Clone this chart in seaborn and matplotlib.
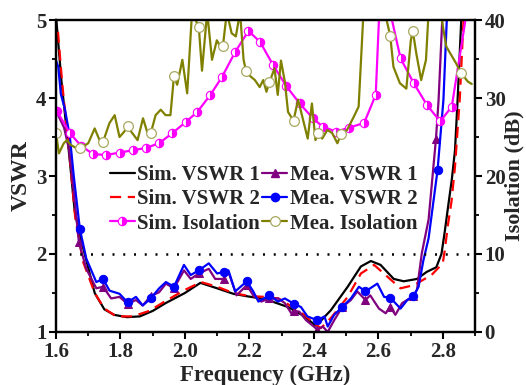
import numpy as np
import matplotlib
matplotlib.use("Agg")
import matplotlib.pyplot as plt
from matplotlib.lines import Line2D
from matplotlib.ticker import MultipleLocator
import seaborn as sns

# ---- data ----
sim_vswr1_f = [1.600, 1.617, 1.628, 1.641, 1.658, 1.674, 1.694, 1.72, 1.75, 1.78, 1.82, 1.86,
               1.90, 1.94, 2.00, 2.048, 2.10, 2.15, 2.19, 2.25, 2.32, 2.371, 2.40, 2.407,
               2.453, 2.505, 2.546, 2.577, 2.607, 2.648, 2.679, 2.72, 2.75, 2.78, 2.796,
               2.806, 2.817, 2.828, 2.838, 2.846, 2.858]
sim_vswr1 = [5.05, 4.21, 3.78, 3.27, 2.55, 2.24, 1.92, 1.50, 1.29, 1.22, 1.19, 1.20,
             1.27, 1.37, 1.50, 1.63, 1.56, 1.49, 1.46, 1.42, 1.32, 1.20, 1.10, 1.08,
             1.28, 1.58, 1.84, 1.91, 1.86, 1.68, 1.65, 1.68, 1.77, 1.83, 2.00,
             2.28, 2.62, 2.95, 3.33, 3.97, 5.05]

sim_vswr2_f = [1.606, 1.62, 1.64, 1.66, 1.684, 1.72, 1.75, 1.787, 1.838, 1.889, 1.941,
               2.00, 2.05, 2.10, 2.15, 2.20, 2.25, 2.29, 2.33, 2.37, 2.40, 2.422, 2.453,
               2.505, 2.546, 2.587, 2.628, 2.669, 2.71, 2.765, 2.80, 2.806, 2.816,
               2.827, 2.838, 2.853, 2.865]
sim_vswr2 = [4.85, 4.15, 3.35, 2.45, 1.90, 1.50, 1.30, 1.20, 1.20, 1.27, 1.40,
             1.54, 1.64, 1.58, 1.50, 1.46, 1.45, 1.43, 1.33, 1.22, 1.11, 1.05, 1.18,
             1.45, 1.75, 1.86, 1.71, 1.56, 1.60, 1.73, 1.88, 2.04, 2.37,
             2.67, 3.12, 4.00, 5.05]

mea_vswr1_f = [1.600, 1.61, 1.625, 1.64, 1.655, 1.671, 1.694, 1.725, 1.746, 1.771, 1.797,
               1.822, 1.848, 1.869, 1.894, 1.92, 1.941, 1.966, 1.997, 2.018, 2.043, 2.074,
               2.094, 2.12, 2.135, 2.16, 2.192, 2.212, 2.237, 2.262, 2.29, 2.31, 2.33,
               2.339, 2.355, 2.376, 2.40, 2.411, 2.428, 2.443, 2.463, 2.488, 2.515, 2.535,
               2.56, 2.575, 2.602, 2.623, 2.637, 2.653, 2.674, 2.709, 2.72, 2.735, 2.756,
               2.779, 2.787, 2.799]
mea_vswr1 = [3.85, 3.75, 3.62, 3.35, 2.80, 2.15, 1.81, 1.56, 1.58, 1.43, 1.45,
             1.36, 1.41, 1.34, 1.46, 1.51, 1.62, 1.56, 1.79, 1.68, 1.75, 1.81,
             1.68, 1.68, 1.77, 1.47, 1.60, 1.47, 1.39, 1.43, 1.43, 1.37, 1.24,
             1.27, 1.26, 1.15, 1.07, 1.03, 1.07, 1.00, 1.15, 1.32, 1.41, 1.52,
             1.41, 1.47, 1.30, 1.24, 1.32, 1.22, 1.37, 1.46, 1.54, 2.01, 2.44,
             3.48, 3.97, 5.05]
mea_vswr1_marks = [1.671, 1.746, 1.822, 1.894, 1.966, 2.043, 2.12, 2.192, 2.262, 2.339,
                   2.411, 2.488, 2.56, 2.637, 2.709, 2.779]

mea_vswr2_f = [1.600, 1.607, 1.615, 1.628, 1.643, 1.655, 1.674, 1.694, 1.725, 1.746, 1.766,
               1.797, 1.822, 1.848, 1.869, 1.894, 1.92, 1.941, 1.966, 1.997, 2.018, 2.043,
               2.074, 2.10, 2.12, 2.135, 2.156, 2.192, 2.212, 2.228, 2.262, 2.289, 2.31,
               2.339, 2.36, 2.38, 2.411, 2.433, 2.443, 2.463, 2.488, 2.515, 2.54, 2.56,
               2.597, 2.618, 2.637, 2.669, 2.69, 2.709, 2.725, 2.74, 2.756, 2.784, 2.802,
               2.813]
mea_vswr2 = [4.48, 4.40, 4.05, 3.85, 3.50, 3.00, 2.32, 1.94, 1.64, 1.68, 1.53,
             1.49, 1.38, 1.45, 1.34, 1.43, 1.56, 1.64, 1.58, 1.86, 1.73, 1.79,
             1.88, 1.75, 1.77, 1.79, 1.52, 1.65, 1.52, 1.39, 1.47, 1.39, 1.43,
             1.36, 1.32, 1.20, 1.15, 1.20, 1.07, 1.22, 1.32, 1.43, 1.58, 1.52,
             1.62, 1.45, 1.44, 1.30, 1.41, 1.46, 1.58, 1.92, 2.20, 3.08, 3.97,
             5.05]
mea_vswr2_marks = [1.674, 1.746, 1.822, 1.894, 1.966, 2.043, 2.12, 2.192, 2.262, 2.339,
                   2.411, 2.488, 2.56, 2.637, 2.709, 2.784]

sim_iso_f = [1.603, 1.643, 1.677, 1.715, 1.756, 1.797, 1.838, 1.879, 1.920, 1.961, 2.002,
             2.038, 2.079, 2.115, 2.156, 2.197, 2.233, 2.274, 2.315, 2.356, 2.397, 2.428,
             2.469, 2.510, 2.556, 2.592, 2.603, 2.620, 2.637, 2.669, 2.710, 2.751, 2.792,
             2.828, 2.878]
sim_iso = [28.3, 25.5, 23.9, 22.8, 22.7, 23.0, 23.3, 23.6, 24.2, 25.5, 26.9,
           28.2, 30.4, 32.7, 35.9, 38.6, 37.2, 34.2, 31.5, 29.3, 27.4, 26.3,
           25.7, 26.2, 26.8, 30.4, 41.0, 55.0, 41.0, 35.1, 31.9, 29.1, 27.0,
           28.9, 42.0]

mea_iso_f = [1.600, 1.609, 1.624, 1.634, 1.645, 1.662, 1.674, 1.70, 1.72, 1.735, 1.746,
             1.766, 1.782, 1.797, 1.812, 1.822, 1.833, 1.853, 1.87, 1.884, 1.894, 1.909,
             1.925, 1.94, 1.955, 1.966, 1.976, 1.992, 2.007, 2.022, 2.043, 2.053, 2.069,
             2.084, 2.099, 2.11, 2.118, 2.13, 2.145, 2.158, 2.171, 2.182, 2.19, 2.20,
             2.217, 2.227, 2.232, 2.243, 2.253, 2.262, 2.278, 2.288, 2.298, 2.31, 2.32,
             2.337, 2.351, 2.366, 2.381, 2.394, 2.405, 2.413, 2.426, 2.442, 2.457, 2.473,
             2.485, 2.503, 2.524, 2.539, 2.554, 2.56, 2.62, 2.637, 2.647, 2.667, 2.687,
             2.701, 2.707, 2.718, 2.733, 2.748, 2.756, 2.78, 2.793, 2.811, 2.842, 2.857,
             2.878, 2.89]
mea_iso = [25.5, 22.9, 24.2, 24.6, 24.0, 23.6, 23.55, 24.2, 26.1, 24.6, 24.4,
           26.8, 27.8, 25.0, 25.7, 26.4, 25.7, 24.6, 27.4, 25.5, 25.5, 27.8,
           28.5, 27.8, 27.8, 32.8, 31.7, 34.9, 30.6, 41.0, 39.1, 33.5, 41.0,
           34.9, 37.4, 36.6, 36.7, 41.0, 38.3, 37.9, 41.0, 34.9, 33.4, 32.9,
           32.3, 31.7, 31.4, 32.3, 30.8, 32.0, 33.8, 30.4, 34.8, 32.1, 28.2,
           27.1, 29.8, 27.3, 24.8, 29.3, 24.6, 25.5, 24.8, 25.9, 25.5, 24.2,
           25.4, 25.9, 27.6, 28.9, 41.0, 41.5, 41.0, 38.0, 34.0, 31.9, 31.2,
           37.4, 38.6, 35.7, 32.3, 34.9, 41.0, 41.5, 41.0, 36.6, 34.4, 33.2,
           32.1, 31.8]
mea_iso_marks = [1.600, 1.674, 1.746, 1.822, 1.894, 1.966, 2.043, 2.118, 2.19, 2.262,
                 2.337, 2.413, 2.485, 2.56, 2.637, 2.707, 2.78, 2.857]

vswr_limit = 2.0


def mark_idx(f, marks):
    f = np.asarray(f)
    return [int(np.argmin(np.abs(f - m))) for m in marks]


sns.set_style("ticks")
plt.rcParams["font.family"] = ["Liberation Serif", "DejaVu Serif"]
plt.rcParams["font.weight"] = "bold"
plt.rcParams["axes.labelweight"] = "bold"

fig = plt.figure(figsize=(5.26, 3.85), dpi=100)
ax = fig.add_axes([0.1065, 0.1377, 0.7965, 0.8103])
ax2 = ax.twinx()

lw = 1.6
sns.lineplot(x=sim_vswr1_f, y=sim_vswr1, ax=ax, color="black", lw=lw,
             estimator=None, sort=False, legend=False)
sns.lineplot(x=sim_vswr2_f, y=sim_vswr2, ax=ax, color="red", lw=lw,
             estimator=None, sort=False, legend=False)
ax.lines[-1].set_dashes((5, 3))
sns.lineplot(x=mea_vswr1_f, y=mea_vswr1, ax=ax, color="purple", lw=lw,
             estimator=None, sort=False, legend=False, marker="^", ms=5.5,
             mec="purple", markevery=mark_idx(mea_vswr1_f, mea_vswr1_marks))
sns.lineplot(x=mea_vswr2_f, y=mea_vswr2, ax=ax, color="blue", lw=lw,
             estimator=None, sort=False, legend=False, marker="o", ms=6,
             mec="blue", markevery=mark_idx(mea_vswr2_f, mea_vswr2_marks))
ax.axhline(vswr_limit, xmin=0.03, xmax=0.985, color="black", lw=1.8,
           dashes=(0.8, 3.5))

sns.lineplot(x=sim_iso_f, y=sim_iso, ax=ax2, color="magenta", lw=lw,
             estimator=None, sort=False, legend=False, marker="o", ms=6,
             mec="magenta", mfc="magenta", fillstyle="right", mfcalt="white", mew=0.8)
sns.lineplot(x=mea_iso_f, y=mea_iso, ax=ax2, color="#808000", lw=lw,
             estimator=None, sort=False, legend=False, marker="o", ms=7,
             mfc="white", mec="#a8a860", mew=0.9,
             markevery=mark_idx(mea_iso_f, mea_iso_marks))

ax.set_xlim(1.6, 2.9)
ax.set_ylim(1, 5)
ax2.set_ylim(0, 40)
ax.xaxis.set_major_locator(MultipleLocator(0.2))
ax.xaxis.set_minor_locator(MultipleLocator(0.1))
ax.yaxis.set_major_locator(MultipleLocator(1))
ax.yaxis.set_minor_locator(MultipleLocator(0.5))
ax2.yaxis.set_major_locator(MultipleLocator(10))
ax2.yaxis.set_minor_locator(MultipleLocator(5))
ax.xaxis.set_major_formatter(matplotlib.ticker.FormatStrFormatter("%.1f"))

for a in (ax, ax2):
    for s in a.spines.values():
        s.set_linewidth(1.6)
        s.set_color("black")
    a.tick_params(which="major", direction="out", length=5, width=1.5,
                  labelsize=15, pad=2, color="black")
    a.tick_params(which="minor", direction="out", length=3, width=1.3, color="black")
ax.tick_params(top=False, right=False, which="both")

ax.set_xlabel("Frequency (GHz)", fontsize=16.5, labelpad=2)
ax.set_ylabel("VSWR", fontsize=17, labelpad=3)
ax2.set_ylabel("Isolation (dB)", fontsize=16, labelpad=-1)

handles = [
    Line2D([], [], color="black", lw=lw),
    Line2D([], [], color="red", lw=lw, dashes=(5, 3)),
    Line2D([], [], color="magenta", lw=lw, marker="o", ms=6, mec="magenta",
           mfc="magenta", fillstyle="right", mfcalt="white", mew=0.8),
    Line2D([], [], color="purple", lw=lw, marker="^", ms=5.5),
    Line2D([], [], color="blue", lw=lw, marker="o", ms=6),
    Line2D([], [], color="#808000", lw=lw, marker="o", ms=7, mfc="white",
           mec="#a8a860", mew=0.9),
]
labels = ["Sim. VSWR 1", "Sim. VSWR 2", "Sim. Isolation",
          "Mea. VSWR 1", "Mea. VSWR 2", "Mea. Isolation"]
ax2.legend(handles, labels, ncol=2, loc="center", bbox_to_anchor=(0.495, 0.425),
           frameon=False, fontsize=15, handlelength=1.2, handletextpad=0.12,
           columnspacing=0.1, labelspacing=0.2, borderpad=0.1)

fig.savefig("out.png", dpi=100)
